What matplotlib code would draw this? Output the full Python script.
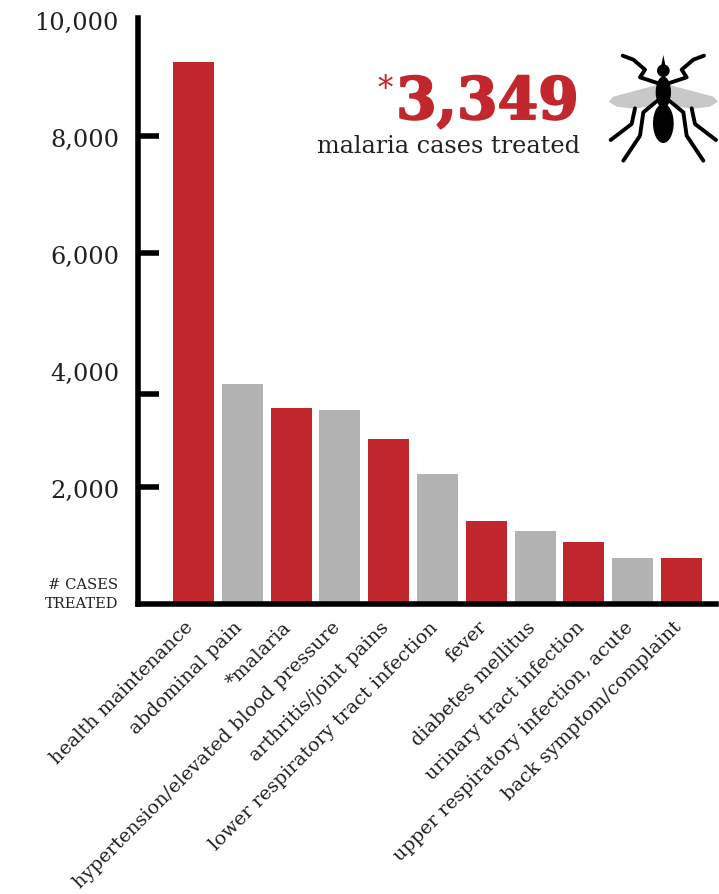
import matplotlib
matplotlib.use("Agg")
import matplotlib.pyplot as plt
from matplotlib.patches import Polygon, Ellipse, Circle
from matplotlib.transforms import ScaledTranslation
import matplotlib.patheffects as pe

W, H = 719, 895
RED = "#C1272D"
GRAY = "#B2B2B2"
INK = "#231F20"
SERIF = "DejaVu Serif"

categories = ["health maintenance", "abdominal pain", "*malaria",
              "hypertension/elevated blood pressure", "arthritis/joint pains",
              "lower respiratory tract infection", "fever", "diabetes mellitus",
              "urinary tract infection", "upper respiratory infection, acute",
              "back symptom/complaint"]
cases = [9248, 3744, 3349, 3299, 2803, 2205, 1402, 1231, 1043, 786, 769]
bar_colors = [RED, GRAY, RED, GRAY, RED, GRAY, RED, GRAY, RED, GRAY, RED]
label_values = [2000, 4000, 6000, 8000, 10000]
label_texts = ["2,000", "4,000", "6,000", "8,000", "10,000"]
tick_marks = [1983, 3573, 5983, 7983, 10000]

fig = plt.figure(figsize=(W / 100, H / 100), dpi=100, facecolor="white")
L, R, T, B = 137.7, 716, 19.3, 604.5
ax = fig.add_axes([L / W, 1 - B / H, (R - L) / W, (B - T) / H])
xs = list(range(len(cases)))
ax.bar(xs, cases, width=0.84, color=bar_colors, zorder=1)
ax.set_xlim(-1.14, 10.704)
ax.set_ylim(0, 10000)
for s in ("top", "right"):
    ax.spines[s].set_visible(False)
for s in ("left", "bottom"):
    ax.spines[s].set_linewidth(4)
    ax.spines[s].set_color("black")
    ax.spines[s].set_zorder(3)
ax.set_yticks(label_values, label_texts, fontfamily=SERIF, fontsize=17.3, color=INK)
ax.set_yticks(tick_marks, minor=True)
ax.tick_params(axis="y", which="major", length=0, pad=13.5)
ax.tick_params(axis="y", which="minor", direction="in", length=15, width=4, color="black")
for lab in ax.get_yticklabels():
    lab.set_transform(lab.get_transform() + ScaledTranslation(0, -1.5 / 100, fig.dpi_scale_trans))
ax.set_xticks(xs)
ax.set_xticklabels(categories, rotation=45, ha="right", va="top", rotation_mode="anchor",
                   fontfamily=SERIF, fontsize=13.8, color=INK)
ax.tick_params(axis="x", length=0, pad=10)
for lab in ax.get_xticklabels():
    lab.set_transform(lab.get_transform() + ScaledTranslation(-9 / 100, 0, fig.dpi_scale_trans))

ov = fig.add_axes([0, 0, 1, 1], facecolor="none")
ov.set_xlim(0, W)
ov.set_ylim(H, 0)
ov.axis("off")

ov.text(118, 585, "# CASES", ha="right", va="center", family=SERIF, fontsize=10.6, color=INK)
ov.text(118, 604, "TREATED", ha="right", va="center", family=SERIF, fontsize=10.6, color=INK)
big = ov.text(579, 120, "3,349", ha="right", va="baseline", family=SERIF, fontweight="bold",
              fontsize=42, color=RED)
big.set_path_effects([pe.withStroke(linewidth=1.4, foreground=RED)])
ov.text(385, 98, "*", ha="center", va="baseline", family=SERIF, fontsize=22, color=RED)
ov.text(580, 146, "malaria cases treated", ha="right", va="center", family=SERIF,
        fontsize=17.2, color=INK)

def zp(p):
    return (p[0] / 3 + 580, p[1] / 3 + 30)

def mirror(pts):
    return [(500 - x, y) for x, y in pts]

wing = [(238, 166), (100, 203), (86, 218), (110, 233), (160, 239), (205, 233), (230, 205), (238, 185)]
legs = [[(128, 80), (160, 92), (195, 122), (180, 145), (232, 162)],
        [(232, 215), (190, 250), (180, 320), (130, 395)],
        [(165, 238), (155, 285), (92, 333)]]
for pts in (wing, mirror(wing)):
    ov.add_patch(Polygon([zp(p) for p in pts], closed=True, fc="#C8C8C8", ec="none", zorder=1))
for leg in legs:
    for pts in (leg, mirror(leg)):
        q = [zp(p) for p in pts]
        ov.plot([a for a, _ in q], [b for _, b in q], color="black", lw=2.8,
                solid_capstyle="round", solid_joinstyle="round", zorder=2)
ov.add_patch(Ellipse(zp((250, 283)), 62 / 3, 118 / 3, fc="black", ec="none", zorder=3))
ov.add_patch(Ellipse(zp((250, 190)), 46 / 3, 95 / 3, fc="black", ec="none", zorder=3))
ov.add_patch(Circle(zp((250, 125)), 19 / 3, fc="black", ec="none", zorder=3))
ov.add_patch(Polygon([zp((250, 78)), zp((242, 118)), zp((258, 118))], fc="black", ec="none", zorder=3))

fig.savefig("out.png", dpi=100)
